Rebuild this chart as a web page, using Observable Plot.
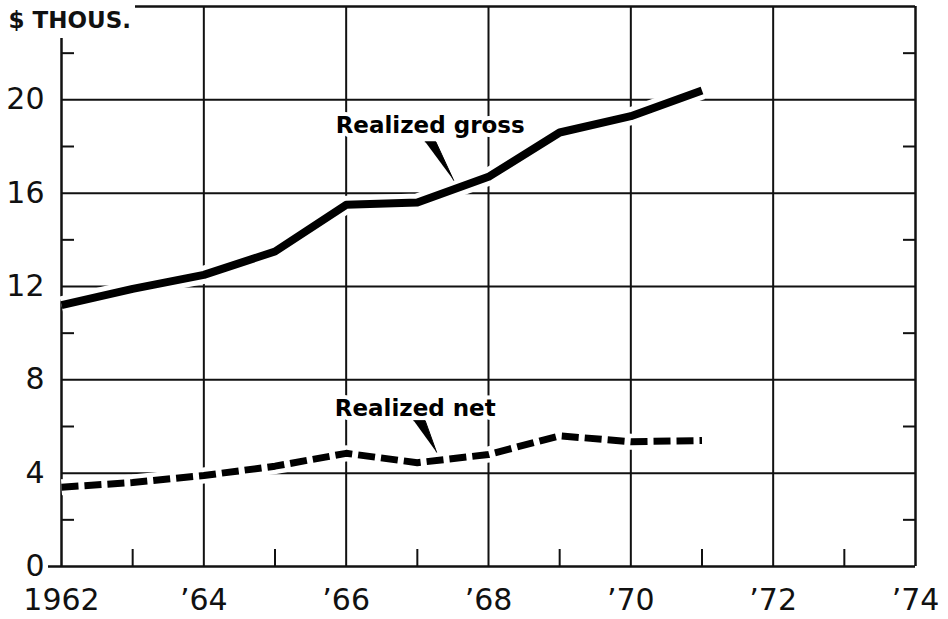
<!DOCTYPE html>
<html>
<head>
<meta charset="utf-8">
<script src="https://cdn.jsdelivr.net/npm/d3@7"></script>
<script src="https://cdn.jsdelivr.net/npm/@observablehq/plot@0.6"></script>
<style>
  html, body { margin: 0; padding: 0; background: #fff; }
  #chart svg { display: block; }
</style>
</head>
<body>
<div id="chart"></div>
<script>
// ---- data ----
const years = [1962, 1963, 1964, 1965, 1966, 1967, 1968, 1969, 1970, 1971];
const realizedGross = [11.2, 11.9, 12.5, 13.5, 15.5, 15.6, 16.7, 18.6, 19.3, 20.4];
const realizedNet   = [3.4, 3.6, 3.9, 4.3, 4.85, 4.45, 4.8, 5.6, 5.35, 5.4];

const xTickValues = [1962, 1964, 1966, 1968, 1970, 1972, 1974];
const xTickLabels = ["1962", "\u201964", "\u201966", "\u201968", "\u201970", "\u201972", "\u201974"];
const yTickValues = [0, 4, 8, 12, 16, 20];
const yTickLabels = ["0", "4", "8", "12", "16", "20"];
const yMinorTicks = [2, 6, 10, 14, 18, 22];
const xMinorTicks = [1963, 1965, 1967, 1969, 1971, 1973];
const gridX = [1964, 1966, 1968, 1970, 1972];
const gridY = [4, 8, 12, 16, 20];

const unitLabel = "$ THOUS.";
const grossLabel = {text: "Realized gross", x: 1967.18, y: 18.9};
const netLabel = {text: "Realized net", x: 1966.97, y: 6.75};
const grossPointer = [[1967.11, 18.2], [1967.26, 18.2], [1967.51, 16.55]];
const netPointer = [[1966.95, 6.25], [1967.11, 6.25], [1967.27, 4.9]];

// ---- build ----
const gross = years.map((yr, i) => ({year: yr, value: realizedGross[i]}));
const net = years.map((yr, i) => ({year: yr, value: realizedNet[i]}));
const XMIN = 1962, XMAX = 1974, YMAX = 24;
const pxX = (XMAX - XMIN) / (948 - 61 - 33); // years per px
const pxY = YMAX / (619 - 6 - 53);           // units per px

const font = "'DejaVu Sans', sans-serif";
const ink = "#111";

const chart = Plot.plot({
  width: 948,
  height: 619,
  marginLeft: 61,
  marginRight: 33,
  marginTop: 6,
  marginBottom: 53,
  x: {domain: [XMIN, XMAX], axis: null},
  y: {domain: [0, YMAX], axis: null},
  style: {fontFamily: font, background: "#fff", color: ink},
  marks: [
    // grid
    Plot.ruleX(gridX, {y1: 0, y2: YMAX, stroke: ink, strokeWidth: 2}),
    Plot.ruleY(gridY, {x1: XMIN, x2: XMAX, stroke: ink, strokeWidth: 2}),
    // frame
    Plot.ruleY([YMAX], {x1: XMIN + 74 * pxX, x2: XMAX, stroke: ink, strokeWidth: 2.5}),
    Plot.ruleY([0], {x1: XMIN - 13 * pxX, x2: XMAX, stroke: ink, strokeWidth: 2.5}),
    Plot.ruleX([XMIN], {y1: 0, y2: YMAX - 32 * pxY, stroke: ink, strokeWidth: 2.5}),
    Plot.ruleX([XMAX], {y1: 0, y2: YMAX, stroke: ink, strokeWidth: 2.5}),
    // minor ticks
    Plot.ruleY(yMinorTicks.filter(d => d < 23), {x1: XMIN, x2: XMIN + 13 * pxX, stroke: ink, strokeWidth: 2}),
    Plot.ruleY(yMinorTicks, {x1: XMAX - 12 * pxX, x2: XMAX, stroke: ink, strokeWidth: 2}),
    Plot.ruleX(xMinorTicks, {y1: 0, y2: 17 * pxY, stroke: ink, strokeWidth: 2}),
    // white halos that break the grid around the data lines
    Plot.line(gross, {x: "year", y: "value", stroke: "#fff", strokeWidth: 18, strokeLinecap: "butt"}),
    Plot.line(net, {x: "year", y: "value", stroke: "#fff", strokeWidth: 16, strokeLinecap: "butt"}),
    // data lines
    Plot.line(gross, {x: "year", y: "value", stroke: "#000", strokeWidth: 8, strokeLinejoin: "round", strokeLinecap: "butt"}),
    Plot.line(net, {x: "year", y: "value", stroke: "#000", strokeWidth: 7, strokeDasharray: "17,6", strokeLinejoin: "round", strokeLinecap: "butt"}),
    // pointers
    Plot.line(grossPointer, {x: d => d[0], y: d => d[1], fill: "#000", stroke: "#000", strokeWidth: 1}),
    Plot.line(netPointer, {x: d => d[0], y: d => d[1], fill: "#000", stroke: "#000", strokeWidth: 1}),
    // line labels
    Plot.text([grossLabel], {x: "x", y: "y", text: "text", fontSize: 23, fontWeight: "bold", fill: "#000",
      stroke: "#fff", strokeWidth: 8, paintOrder: "stroke", textAnchor: "middle", lineAnchor: "middle"}),
    Plot.text([netLabel], {x: "x", y: "y", text: "text", fontSize: 23, fontWeight: "bold", fill: "#000",
      stroke: "#fff", strokeWidth: 8, paintOrder: "stroke", textAnchor: "middle", lineAnchor: "middle"}),
    // y tick labels
    Plot.text(yTickValues, {x: XMIN, y: d => d, text: (d, i) => yTickLabels[i], dx: -17, textAnchor: "end",
      lineAnchor: "middle", fontSize: 30, fill: ink}),
    // x tick labels
    Plot.text(xTickValues, {x: d => d, y: 0, text: (d, i) => xTickLabels[i], dy: 34, textAnchor: "middle",
      lineAnchor: "middle", fontSize: 30, fill: ink}),
    // unit label
    Plot.text([unitLabel], {frameAnchor: "top-left", text: d => d, dx: -53, dy: 14, textAnchor: "start",
      lineAnchor: "middle", fontSize: 23, fontWeight: "bold", fill: ink})
  ]
});
document.getElementById("chart").appendChild(chart);
</script>
</body>
</html>
